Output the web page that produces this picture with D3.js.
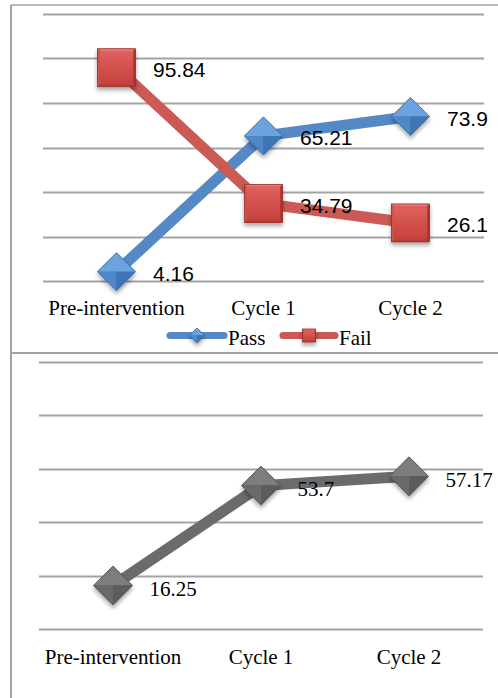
<!DOCTYPE html>
<html>
<head>
<meta charset="utf-8">
<script src="https://cdn.jsdelivr.net/npm/d3@7"></script>
<style>
  html, body { margin: 0; padding: 0; background: #fff; }
  svg { display: block; }
</style>
</head>
<body>
<svg id="chart" width="498" height="698"></svg>
<script>
// Categories shared by both panels
const categories = ["Pre-intervention", "Cycle 1", "Cycle 2"];

// Upper panel: pass / fail percentages
const passValues = [4.16, 65.21, 73.9];
const failValues = [95.84, 34.79, 26.1];
const passLabels = ["4.16", "65.21", "73.9"];
const failLabels = ["95.84", "34.79", "26.1"];
const seriesNames = ["Pass", "Fail"];

// Lower panel: single series
const scoreValues = [16.25, 53.7, 57.17];
const scoreLabels = ["16.25", "53.7", "57.17"];

// Axis ranges (gridline values)
const upperDomain = [0, 120];
const lowerDomain = [0, 100];

const svg = d3.select("#chart");
const defs = svg.append("defs");

// soft drop shadow under markers
const shadow = defs.append("filter").attr("id", "shadow")
  .attr("x", "-40%").attr("y", "-40%").attr("width", "180%").attr("height", "180%");
shadow.append("feDropShadow").attr("dx", 0).attr("dy", 3).attr("stdDeviation", 2)
  .attr("flood-color", "#000").attr("flood-opacity", 0.35);

function vGrad(id, stops) {
  const g = defs.append("linearGradient").attr("id", id)
    .attr("x1", 0).attr("y1", 0).attr("x2", 0).attr("y2", 1);
  stops.forEach(([o, c]) => g.append("stop").attr("offset", o).attr("stop-color", c));
}
vGrad("redFace", [[0, "#e0625d"], [1, "#c4413d"]]);

const serif = "'Liberation Serif', 'Times New Roman', serif";
const sans = "'Liberation Sans', Arial, sans-serif";
const gridColor = "#a3a3a3";

// panel frames
svg.append("line").attr("x1", 11).attr("x2", 11).attr("y1", 5).attr("y2", 698)
  .attr("stroke", gridColor).attr("stroke-width", 2);
svg.append("line").attr("x1", 11).attr("x2", 498).attr("y1", 5).attr("y2", 5)
  .attr("stroke", gridColor).attr("stroke-width", 1.5);
svg.append("line").attr("x1", 11).attr("x2", 498).attr("y1", 353).attr("y2", 353)
  .attr("stroke", gridColor).attr("stroke-width", 2);

// faceted diamond marker
function diamond(g, cx, cy, r, colors) {
  const [hi, left, right, low] = colors;
  const m = g.append("g").attr("filter", "url(#shadow)");
  m.append("path").attr("d", `M${cx},${cy - r}L${cx + r},${cy}L${cx},${cy + r}L${cx - r},${cy}Z`).attr("fill", low);
  m.append("path").attr("d", `M${cx - r},${cy}L${cx},${cy - r}L${cx + r},${cy}Z`).attr("fill", hi);
  m.append("path").attr("d", `M${cx - r},${cy}L${cx},${cy}L${cx},${cy + r}Z`).attr("fill", left);
  m.append("path").attr("d", `M${cx + r},${cy}L${cx},${cy}L${cx},${cy + r}Z`).attr("fill", right);
  m.append("path").attr("d", `M${cx},${cy - r}L${cx + r},${cy}L${cx},${cy + r}L${cx - r},${cy}Z`)
    .attr("fill", "none").attr("stroke", low).attr("stroke-width", 0.8);
}

// bevelled square marker
function square(g, cx, cy, h) {
  const m = g.append("g").attr("filter", "url(#shadow)");
  const b = h * 0.12;
  m.append("rect").attr("x", cx - h).attr("y", cy - h).attr("width", 2 * h).attr("height", 2 * h).attr("fill", "#b23a36");
  m.append("path").attr("d", `M${cx - h},${cy - h}L${cx + h},${cy - h}L${cx + h - b},${cy - h + b}L${cx - h + b},${cy - h + b}Z`).attr("fill", "#ea7a75");
  m.append("path").attr("d", `M${cx - h},${cy - h}L${cx - h + b},${cy - h + b}L${cx - h + b},${cy + h - b}L${cx - h},${cy + h}Z`).attr("fill", "#d4534e");
  m.append("path").attr("d", `M${cx + h},${cy - h}L${cx + h - b},${cy - h + b}L${cx + h - b},${cy + h - b}L${cx + h},${cy + h}Z`).attr("fill", "#a9332f");
  m.append("rect").attr("x", cx - h + b).attr("y", cy - h + b).attr("width", 2 * (h - b)).attr("height", 2 * (h - b)).attr("fill", "url(#redFace)");
  m.append("rect").attr("x", cx - h).attr("y", cy - h).attr("width", 2 * h).attr("height", 2 * h)
    .attr("fill", "none").attr("stroke", "#9e302c").attr("stroke-width", 0.8);
}

const blueFacets = ["#6aa3dd", "#4f88c8", "#3f74b4", "#3a6ca8"];
const grayFacets = ["#7d7d7d", "#6a6a6a", "#5b5b5b", "#555555"];

function grid(g, y, x0, x1) {
  g.append("g").selectAll("line").data(y.ticks(6)).join("line")
    .attr("x1", x0).attr("x2", x1)
    .attr("y1", d => Math.round(y(d)) + 0.5).attr("y2", d => Math.round(y(d)) + 0.5)
    .attr("stroke", gridColor).attr("stroke-width", 2);
}

function catLabels(g, x, baseline) {
  g.append("g").selectAll("text").data(categories).join("text")
    .attr("x", d => x(d) + x.bandwidth() / 2).attr("y", baseline)
    .attr("text-anchor", "middle").attr("font-family", serif).attr("font-size", 21)
    .attr("fill", "#000").text(d => d);
}

function dataLabels(g, vals, labels, cx, y, family, dy) {
  g.append("g").selectAll("text").data(vals).join("text")
    .attr("x", (d, i) => cx(categories[i]) + 36.5).attr("y", d => y(d) + dy)
    .attr("font-family", family).attr("font-size", 21).attr("fill", "#000")
    .text((d, i) => labels[i]);
}

// ---------- upper panel ----------
const upper = svg.append("g");
const xT = d3.scaleBand().domain(categories).range([43, 484]);
const yT = d3.scaleLinear().domain(upperDomain).range([281, 14]);
const cxT = d => xT(d) + xT.bandwidth() / 2;
grid(upper, yT, 43, 484);

const lineT = d3.line().x((d, i) => cxT(categories[i])).y(d => yT(d));
upper.append("path").datum(passValues).attr("d", lineT).attr("fill", "none")
  .attr("stroke", "#5589c6").attr("stroke-width", 11).attr("stroke-linejoin", "round");
upper.append("path").datum(failValues).attr("d", lineT).attr("fill", "none")
  .attr("stroke", "#cb5a55").attr("stroke-width", 11).attr("stroke-linejoin", "round");

passValues.forEach((v, i) => diamond(upper, cxT(categories[i]), yT(v), 19, blueFacets));
failValues.forEach((v, i) => square(upper, cxT(categories[i]), yT(v), 19));

dataLabels(upper, passValues, passLabels, cxT, yT, sans, 9.3);
dataLabels(upper, failValues, failLabels, cxT, yT, sans, 9.3);

catLabels(upper, xT, 315);

// legend
const leg = upper.append("g");
const legendItems = [
  { name: seriesNames[0], x0: 167, x1: 227, color: "#5589c6" },
  { name: seriesNames[1], x0: 280, x1: 338, color: "#cb5a55" }
];
legendItems.forEach((it, i) => {
  leg.append("line").attr("x1", it.x0 + 3).attr("x2", it.x1 - 3).attr("y1", 335.5).attr("y2", 335.5)
    .attr("stroke", it.color).attr("stroke-width", 7).attr("stroke-linecap", "round");
  const mx = (it.x0 + it.x1) / 2;
  if (i === 0) diamond(leg, mx, 335.5, 7.5, blueFacets);
  else square(leg, mx, 335.5, 6.5);
  leg.append("text").attr("x", it.x1 + 1).attr("y", 345)
    .attr("font-family", serif).attr("font-size", 21).attr("fill", "#000").text(it.name);
});

// ---------- lower panel ----------
const lower = svg.append("g");
const xB = d3.scaleBand().domain(categories).range([39, 483]);
const yB = d3.scaleLinear().domain(lowerDomain).range([629, 362]);
const cxB = d => xB(d) + xB.bandwidth() / 2;
grid(lower, yB, 39, 483);

const lineB = d3.line().x((d, i) => cxB(categories[i])).y(d => yB(d));
lower.append("path").datum(scoreValues).attr("d", lineB).attr("fill", "none")
  .attr("stroke", "#6b6b6b").attr("stroke-width", 11).attr("stroke-linejoin", "round");
scoreValues.forEach((v, i) => diamond(lower, cxB(categories[i]), yB(v), 19.5, grayFacets));
dataLabels(lower, scoreValues, scoreLabels, cxB, yB, serif, 10.3);

catLabels(lower, xB, 664);
</script>
</body>
</html>
